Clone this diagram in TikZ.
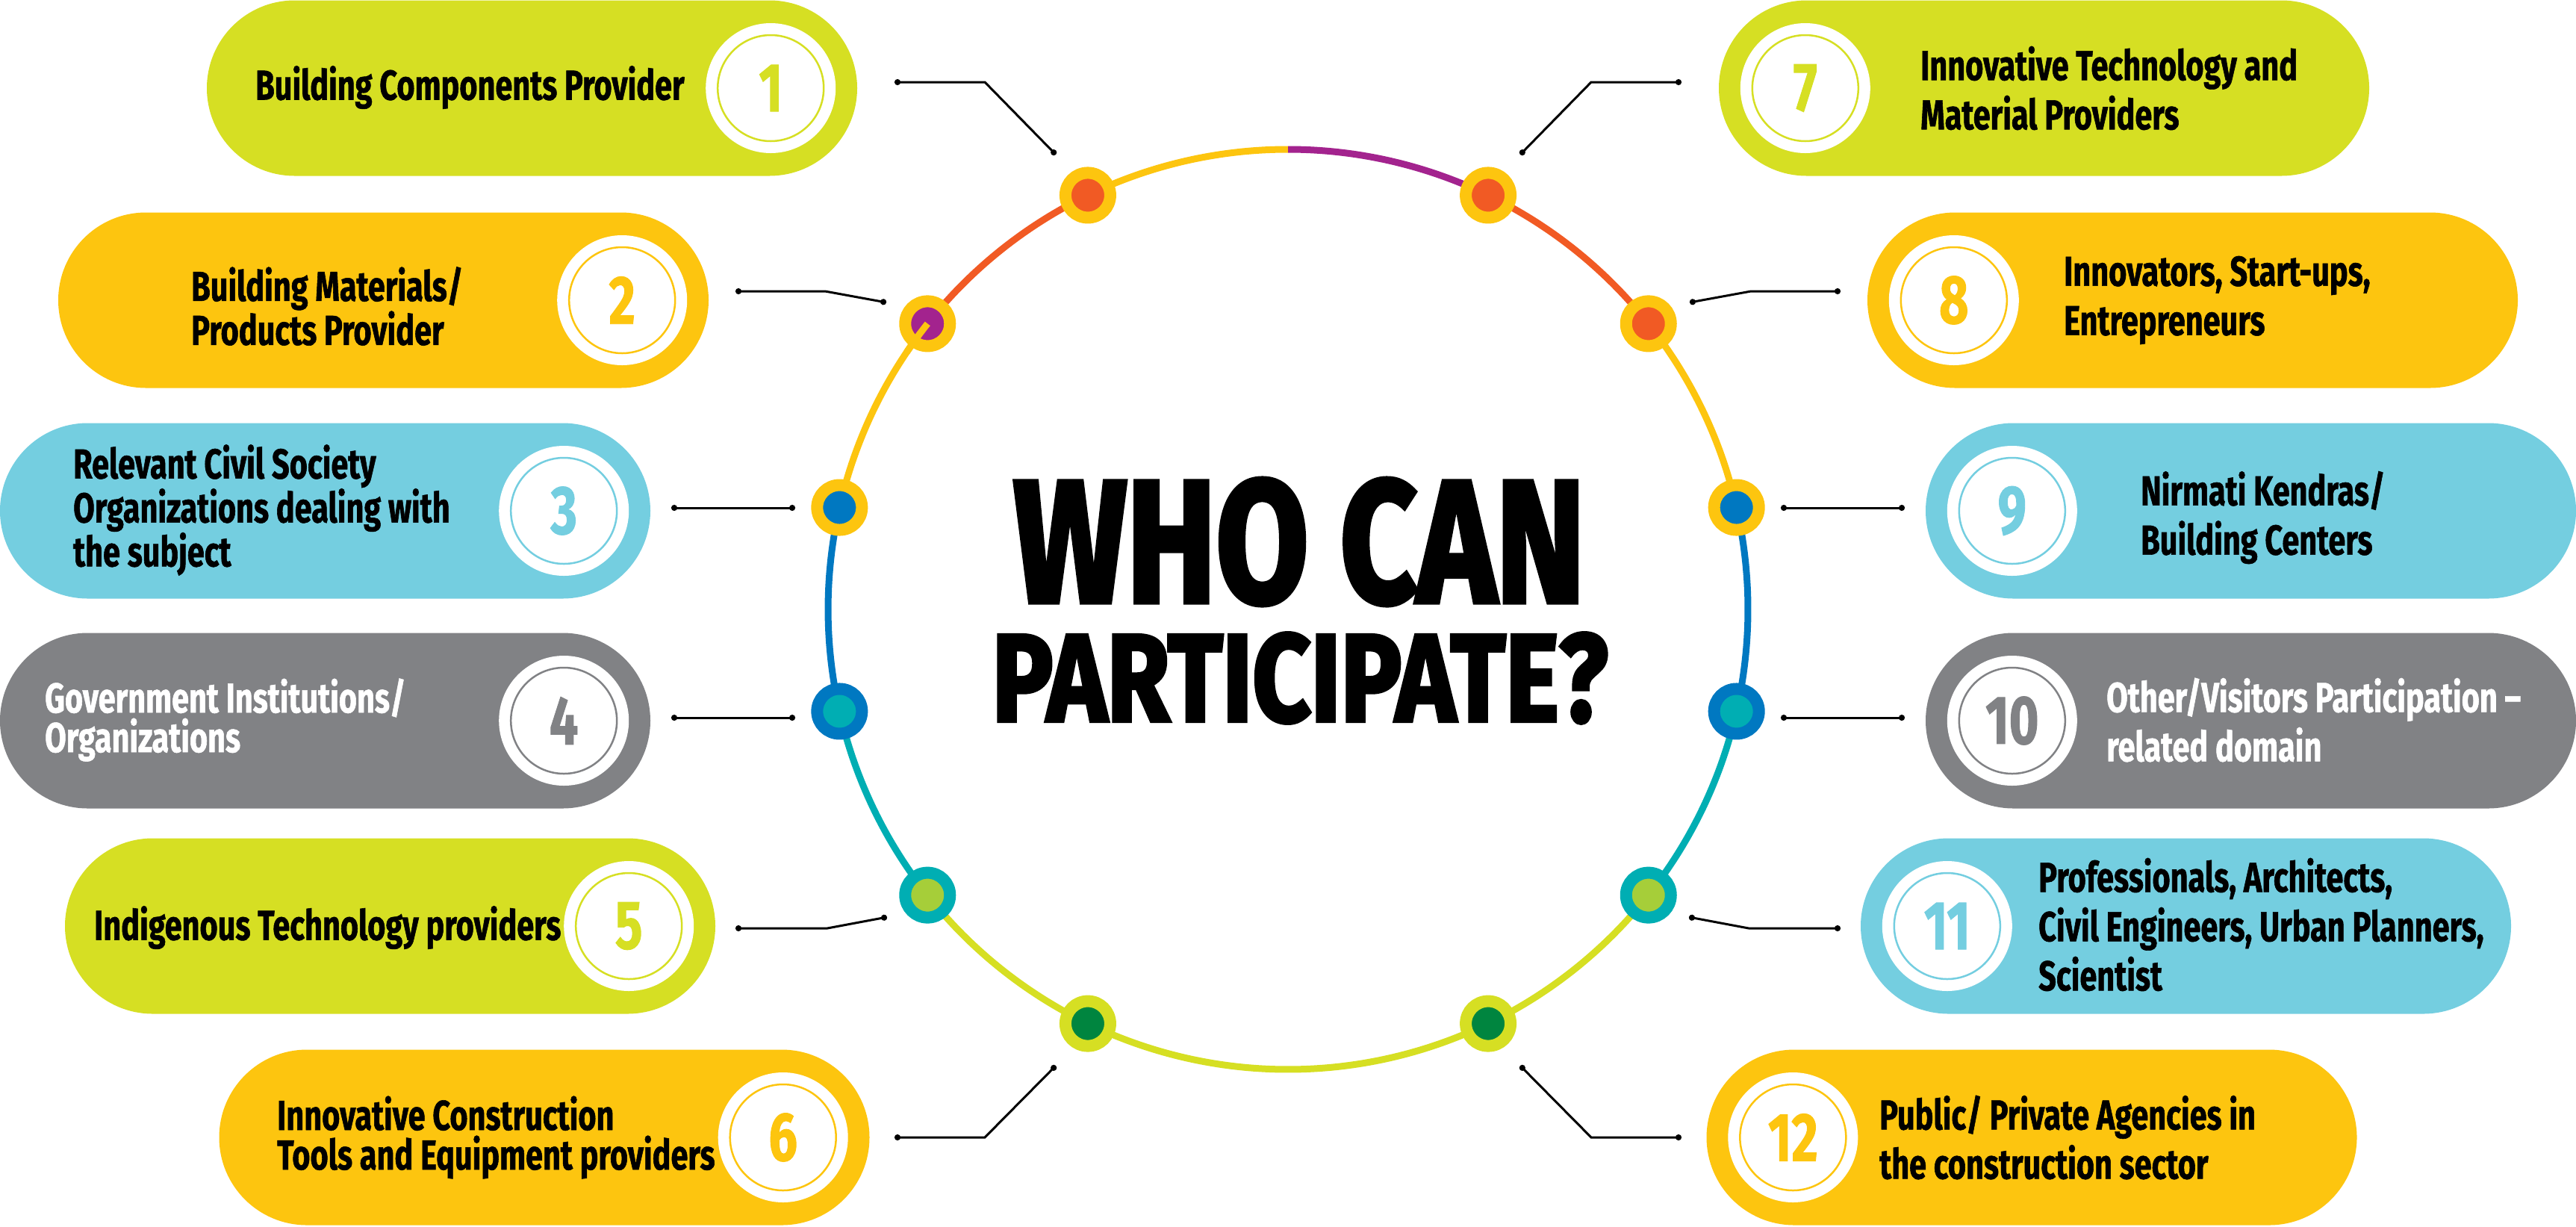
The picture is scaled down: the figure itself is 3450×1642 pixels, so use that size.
\documentclass[tikz,border=0pt]{standalone}
\usepackage{graphicx}
\usepackage{fontspec}
\setmainfont{Fira Sans}
\newfontfamily\pillfont{Fira Sans}[FakeStretch=0.74,FakeBold=1]
\newfontfamily\titlefont{Fira Sans}[FakeBold=3]
\usepackage{tikz}
\usetikzlibrary{calc,arrows.meta}
\definecolor{pillLime}{HTML}{D6DF23}
\definecolor{pillYellow}{HTML}{FDC50F}
\definecolor{pillBlue}{HTML}{74CEE0}
\definecolor{pillGray}{HTML}{818285}
\definecolor{ringOrange}{HTML}{F15A24}
\definecolor{ringPurple}{HTML}{A3238E}
\definecolor{ringBlue}{HTML}{0078C1}
\definecolor{ringTeal}{HTML}{00AEB3}
\definecolor{ringGreen}{HTML}{A6CE39}
\definecolor{ringDark}{HTML}{00853F}
\tikzset{
	pill/.style={rectangle, rounded corners=117.5pt, minimum width=871pt, minimum height=235pt, inner sep=0pt, fill=#1},
	numring/.style={circle, fill=white, preaction={draw=white, line width=32pt}, draw=#1, text=#1, line width=2.5pt, minimum size=142pt, inner sep=0pt, font=\pillfont\bfseries\fontsize{92}{92}\selectfont},
	lefttext/.style={anchor=west, align=left, inner sep=0pt, font=\pillfont\bfseries\fontsize{56}{53}\selectfont},
	righttext/.style={anchor=west, align=left, inner sep=0pt, font=\pillfont\bfseries\fontsize{56}{66}\selectfont},
	ringline/.style={draw=#1, line width=9pt},
	ringdot/.style 2 args={circle, inner sep=0pt, minimum size=60pt, line width=16pt, draw=#1, fill=#2},
	link/.style={line width=3pt, black, {Circle[length=8pt]}-{Circle[length=8pt]}}
}

\begin{document}
\begin{tikzpicture}[x=1pt, y=1pt]
		%%%%% START %%%%%
		\useasboundingbox (0,0) rectangle (3450,-1642);
		
		%%%%% PILLS, LEFT %%%%%
		\node[pill=pillLime] (p1) at (712.5,-118) {};
		\node[pill=pillYellow] (p2) at (513.5,-402) {};
		\node[pill=pillBlue] (p3) at (435.5,-684) {};
		\node[pill=pillGray] (p4) at (435.5,-965) {};
		\node[pill=pillLime] (p5) at (522.5,-1240) {};
		\node[pill=pillYellow] (p6) at (729,-1523) {};
		
		%%%%% PILLS, RIGHT %%%%%
		\node[pill=pillLime] (p7) at (2737.5,-118) {};
		\node[pill=pillYellow] (p8) at (2936.5,-402) {};
		\node[pill=pillBlue] (p9) at (3014.5,-684) {};
		\node[pill=pillGray] (p10) at (3014.5,-965) {};
		\node[pill=pillBlue] (p11) at (2927.5,-1240) {};
		\node[pill=pillYellow] (p12) at (2721,-1523) {};
		
		%%%%% NUMBERS %%%%%
		\node[numring=pillLime] (n1) at ([xshift=-116pt]p1.east) {1};
		\node[numring=pillYellow] (n2) at ([xshift=-116pt]p2.east) {2};
		\node[numring=pillBlue] (n3) at ([xshift=-116pt]p3.east) {3};
		\node[numring=pillGray] (n4) at ([xshift=-116pt]p4.east) {4};
		\node[numring=pillLime] (n5) at ([xshift=-116pt]p5.east) {5};
		\node[numring=pillYellow] (n6) at ([xshift=-116pt]p6.east) {6};
		
		\node[numring=pillLime] (n7) at ([xshift=116pt]p7.west) {7};
		\node[numring=pillYellow] (n8) at ([xshift=116pt]p8.west) {8};
		\node[numring=pillBlue] (n9) at ([xshift=116pt]p9.west) {9};
		\node[numring=pillGray] (n10) at ([xshift=116pt]p10.west) {10};
		\node[numring=pillBlue] (n11) at ([xshift=116pt]p11.west) {11};
		\node[numring=pillYellow] (n12) at ([xshift=116pt]p12.west) {12};
		
		%%%%% TEXTS %%%%%
		\node[lefttext] (t1) at (342,-117) {Building Components Provider};
		\node[lefttext] (t2) at (256,-410) {Building Materials/\\Products Provider};
		\node[lefttext] (t3) at (98,-683) {Relevant Civil Society\\Organizations dealing with\\the subject};
		\node[lefttext, text=white] (t4) at (60,-964) {Government Institutions/\\Organizations};
		\node[lefttext] (t5) at (126,-1242) {Indigenous Technology providers};
		\node[lefttext] (t6) at (371,-1523) {Innovative Construction\\Tools and Equipment providers};
		
		\node[righttext] (t7) at (2572,-118) {Innovative Technology and\\Material Providers};
		\node[righttext] (t8) at (2764,-402) {Innovators, Start-ups,\\Entrepreneurs};
		\node[righttext] (t9) at (2867,-693) {Nirmati Kendras/\\Building Centers};
		\node[righttext, text=white] (t10) at (2821,-964) {Other/Visitors Participation \textendash\\related domain};
		\node[righttext] (t11) at (2730,-1238) {Professionals, Architects,\\Civil Engineers, Urban Planners,\\Scientist};
		\node[righttext] (t12) at (2517,-1523) {Public/ Private Agencies in\\the construction sector};
		
		%%%%% RING %%%%%
		\coordinate (ring) at (1725,-816);
		\draw[ringline=pillYellow] ($(ring)+(90:616)$) arc[start angle=90, end angle=115.8, radius=616];
		\draw[ringline=ringOrange] ($(ring)+(115.8:616)$) arc[start angle=115.8, end angle=141.6, radius=616];
		\draw[ringline=pillYellow] ($(ring)+(141.6:616)$) arc[start angle=141.6, end angle=167.2, radius=616];
		\draw[ringline=ringBlue] ($(ring)+(167.2:616)$) arc[start angle=167.2, end angle=192.8, radius=616];
		\draw[ringline=ringTeal] ($(ring)+(192.8:616)$) arc[start angle=192.8, end angle=218.4, radius=616];
		\draw[ringline=pillLime] ($(ring)+(218.4:616)$) arc[start angle=218.4, end angle=321.6, radius=616];
		\draw[ringline=ringTeal] ($(ring)+(321.6:616)$) arc[start angle=321.6, end angle=347.2, radius=616];
		\draw[ringline=ringBlue] ($(ring)+(-12.8:616)$) arc[start angle=-12.8, end angle=12.8, radius=616];
		\draw[ringline=pillYellow] ($(ring)+(12.8:616)$) arc[start angle=12.8, end angle=38.4, radius=616];
		\draw[ringline=ringOrange] ($(ring)+(38.4:616)$) arc[start angle=38.4, end angle=64.2, radius=616];
		\draw[ringline=ringPurple] ($(ring)+(64.2:616)$) arc[start angle=64.2, end angle=90, radius=616];
		
		\node[ringdot={pillYellow}{ringOrange}] (d1) at ($(ring)+(115.8:616)$) {};
		\node[ringdot={pillYellow}{ringPurple}] (d2) at ($(ring)+(141.6:616)$) {};
		\node[ringdot={pillYellow}{ringBlue}] (d3) at ($(ring)+(167.2:616)$) {};
		\node[ringdot={ringBlue}{ringTeal}] (d4) at ($(ring)+(192.8:616)$) {};
		\node[ringdot={ringTeal}{ringGreen}] (d5) at ($(ring)+(218.4:616)$) {};
		\node[ringdot={pillLime}{ringDark}] (d6) at ($(ring)+(244.2:616)$) {};
		\node[ringdot={pillYellow}{ringOrange}] (d7) at ($(ring)+(64.2:616)$) {};
		\node[ringdot={pillYellow}{ringOrange}] (d8) at ($(ring)+(38.4:616)$) {};
		\node[ringdot={pillYellow}{ringBlue}] (d9) at ($(ring)+(12.8:616)$) {};
		\node[ringdot={ringBlue}{ringTeal}] (d10) at ($(ring)+(-12.8:616)$) {};
		\node[ringdot={ringTeal}{ringGreen}] (d11) at ($(ring)+(-38.4:616)$) {};
		\node[ringdot={pillLime}{ringDark}] (d12) at ($(ring)+(-64.2:616)$) {};
		% yellow stroke running into dot 2
		\draw[ringline=pillYellow] (d2.center) arc[start angle=141.6, end angle=146, radius=616];
		
		%%%%% TITLE %%%%%
		\node[inner sep=0pt] (who) at (1740,-725.5) {\resizebox{765pt}{165pt}{\titlefont\bfseries WHO CAN}};
		\node[inner sep=0pt] (part) at (1741,-908) {\resizebox{824pt}{118pt}{\titlefont\bfseries PARTICIPATE?}};
		
		%%%%% LINKS %%%%%
		\coordinate (c1p) at (1198,-110);  \coordinate (c1r) at (1414,-207);
		\coordinate (c2p) at (985,-390);   \coordinate (c2r) at (1187,-405);
		\coordinate (c3p) at (899,-680);   \coordinate (c3r) at (1065,-680);
		\coordinate (c4p) at (899,-961);   \coordinate (c4r) at (1065,-961);
		\coordinate (c5p) at (985,-1243);  \coordinate (c5r) at (1188,-1228);
		\coordinate (c6p) at (1198,-1523); \coordinate (c6r) at (1414,-1427);
		\coordinate (c7p) at (2252,-110);  \coordinate (c7r) at (2036,-207);
		\coordinate (c8p) at (2465,-390);  \coordinate (c8r) at (2263,-405);
		\coordinate (c9p) at (2551,-680);  \coordinate (c9r) at (2385,-680);
		\coordinate (c10p) at (2551,-961); \coordinate (c10r) at (2385,-961);
		\coordinate (c11p) at (2465,-1243); \coordinate (c11r) at (2262,-1228);
		\coordinate (c12p) at (2252,-1523); \coordinate (c12r) at (2036,-1427);
		
		\draw[link] (c1p) -- ++(121,0) -- (c1r);
		\draw[link] (c2p) -- ++(120,0) -- (c2r);
		\draw[link] (c3p) -- (c3r);
		\draw[link] (c4p) -- (c4r);
		\draw[link] (c5p) -- ++(123,0) -- (c5r);
		\draw[link] (c6p) -- ++(121,0) -- (c6r);
		\draw[link] (c7p) -- ++(-121,0) -- (c7r);
		\draw[link] (c8p) -- ++(-120,0) -- (c8r);
		\draw[link] (c9p) -- (c9r);
		\draw[link] (c10p) -- (c10r);
		\draw[link] (c11p) -- ++(-123,0) -- (c11r);
		\draw[link] (c12p) -- ++(-121,0) -- (c12r);
		
		%%%%% END %%%%%
\end{tikzpicture}
\end{document}
